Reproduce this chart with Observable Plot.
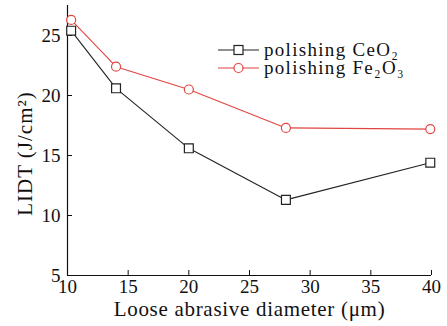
<!DOCTYPE html>
<html>
<head>
<meta charset="utf-8">
<script src="https://cdn.jsdelivr.net/npm/d3@7"></script>
<script src="https://cdn.jsdelivr.net/npm/@observablehq/plot@0.6"></script>
<style>
  body { margin: 0; background: white; }
  #chart { position: relative; width: 447px; height: 326px; }
</style>
</head>
<body>
<div id="chart"></div>
<script>
const diameters = [10.3, 14, 20, 28, 39.9];
const ceo2 = [25.4, 20.6, 15.6, 11.3, 14.4];
const fe2o3 = [26.3, 22.4, 20.5, 17.3, 17.2];
const xTicks = [10, 15, 20, 25, 30, 35, 40];
const yTicks = [5, 10, 15, 20, 25];
const seriesNames = ["polishing CeO₂", "polishing Fe₂O₃"];
const xLabel = "Loose abrasive diameter (μm)";
const yLabel = "LIDT (J/cm²)";
const colors = ["#222222", "#e04540"];

const ceData = diameters.map((d, i) => ({x: d, y: ceo2[i]}));
const feData = diameters.map((d, i) => ({x: d, y: fe2o3[i]}));

const font = "Liberation Serif, DejaVu Serif, serif";

function legend(index, scales, values, dims) {
  const g = d3.create("svg:g").attr("font-family", font).attr("font-size", 19)
    .attr("text-anchor", "start").attr("letter-spacing", "1.3px");
  const x0 = 218, y0 = 50, gap = 18;
  seriesNames.forEach((name, i) => {
    const y = y0 + i * gap;
    g.append("line").attr("x1", x0).attr("x2", x0 + 41).attr("y1", y).attr("y2", y)
      .attr("stroke", colors[i]).attr("stroke-width", 1.2);
    if (i === 0) {
      g.append("rect").attr("x", x0 + 16).attr("y", y - 4.5).attr("width", 9).attr("height", 9)
        .attr("fill", "white").attr("stroke", colors[i]).attr("stroke-width", 1.2);
    } else {
      g.append("circle").attr("cx", x0 + 20.5).attr("cy", y).attr("r", 4.5)
        .attr("fill", "white").attr("stroke", colors[i]).attr("stroke-width", 1.2);
    }
    g.append("text").attr("x", x0 + 46).attr("y", y).attr("dy", "0.32em")
      .attr("fill", "#111").text(name);
  });
  return g.node();
}

const chart = Plot.plot({
  width: 447,
  height: 326,
  marginLeft: 67,
  marginRight: 16,
  marginTop: 5,
  marginBottom: 51,
  style: {fontFamily: font, fontSize: "19px", background: "white", color: "#111"},
  x: {domain: [10, 40]},
  y: {domain: [5, 27.5]},
  marks: [
    Plot.tickX(xTicks, {x: d => d, insetTop: 265, stroke: "#111"}),
    Plot.tickY(yTicks, {y: d => d, insetRight: 359, stroke: "#111"}),
    Plot.axisX({ticks: xTicks, tickSize: 0, tickPadding: 4, label: null, fontFamily: font}),
    Plot.axisY({ticks: yTicks, tickSize: 0, tickPadding: 7, label: null, fontFamily: font}),
    Plot.ruleX([10], {stroke: "#111", strokeWidth: 1.2}),
    Plot.ruleY([5], {stroke: "#111", strokeWidth: 1.2}),
    Plot.line(ceData, {x: "x", y: "y", stroke: colors[0], strokeWidth: 1.1}),
    Plot.line(feData, {x: "x", y: "y", stroke: colors[1], strokeWidth: 1.1}),
    Plot.dot(ceData, {x: "x", y: "y", symbol: "square", r: 5, stroke: colors[0], fill: "white", strokeWidth: 1.2}),
    Plot.dot(feData, {x: "x", y: "y", symbol: "circle", r: 4.5, stroke: colors[1], fill: "white", strokeWidth: 1.2}),
    Plot.text([xLabel], {frameAnchor: "bottom", dy: 40, fontSize: 21, fontFamily: font, fill: "#111"}),
    Plot.text([yLabel], {frameAnchor: "left", textAnchor: "middle", rotate: -90, dx: -42, dy: 13, fontSize: 21, fontFamily: font, fill: "#111"}),
    legend
  ]
});
d3.select(chart).selectAll("text")
  .filter(function() { return this.textContent === xLabel; })
  .attr("letter-spacing", "0.7px");
d3.select(chart).selectAll("text")
  .filter(function() { return this.textContent === yLabel; })
  .attr("letter-spacing", "1px");
document.getElementById("chart").appendChild(chart);
</script>
</body>
</html>
